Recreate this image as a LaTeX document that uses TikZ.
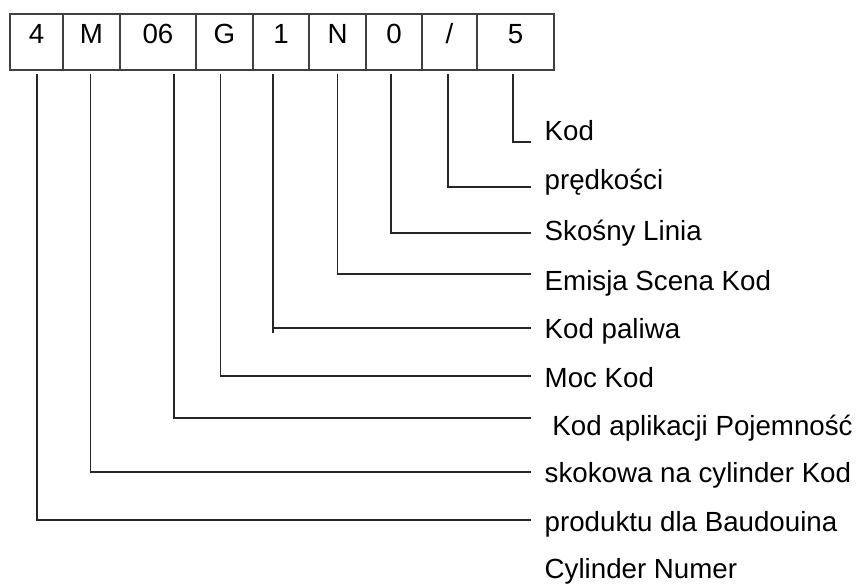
\documentclass[tikz,border=0pt]{standalone}
\usepackage{fontspec}
\setmainfont{Liberation Sans}
\usetikzlibrary{positioning}
\tikzset{cl/.style={draw=black!75,line width=1.4pt,outer sep=0pt,inner sep=0pt,minimum height=56pt,text height=20pt,text depth=17.4pt,font=\fontsize{27.7}{33}\selectfont},
 tx/.style={anchor=base west,inner sep=0pt,font=\fontsize{27.7}{33}\selectfont},
 ln/.style={draw=black!85,line width=1.2pt}}
\begin{document}
\begin{tikzpicture}[x=1pt,y=-1pt]
\useasboundingbox (0,0) rectangle (861,583);
% code cells
\node[cl,anchor=north west,minimum width=53pt](c4) at (10,14){4};\node[cl,right=0pt of c4,minimum width=57pt](cM){M};
\node[cl,right=0pt of cM,minimum width=76pt](c06){06};\node[cl,right=0pt of c06,minimum width=57pt](cG){G};
\node[cl,right=0pt of cG,minimum width=56pt](c1){1};\node[cl,right=0pt of c1,minimum width=57pt](cN){N};
\node[cl,right=0pt of cN,minimum width=56pt](c0){0};\node[cl,right=0pt of c0,minimum width=55pt](cs){/};
\node[cl,right=0pt of cs,minimum width=77pt](c5){5};
% labels
\node[tx](t5) at (544.5,140){Kod};\node[tx](ts) at (544.5,189){prędkości};
\node[tx](t0) at (544.5,240){Skośny Linia};\node[tx](tN) at (544.5,290){Emisja Scena Kod};
\node[tx](t1) at (544.5,338){Kod paliwa};\node[tx](tG) at (544.5,387){Moc Kod};
\node[tx](t06) at (544.5,435){\ Kod aplikacji Pojemność};\node[tx](tM) at (544.5,482){skokowa na cylinder Kod};
\node[tx](t4) at (544.5,531){produktu dla Baudouina};\node[tx](tc) at (544.5,578){Cylinder Numer};
% line ends
\coordinate (e5) at (531,142);\coordinate (es) at (531,187);\coordinate (e0) at (531,233);
\coordinate (eN) at (531,274);\coordinate (e1) at (531,328);\coordinate (eG) at (531,376);
\coordinate (e06) at (531,418);\coordinate (eM) at (531,472);\coordinate (e4) at (531,520);
\draw[ln]([xshift=-2.5pt,yshift=-4pt]c5.south)|-(e5);\draw[ln]([xshift=-1.5pt,yshift=-4pt]cs.south)|-(es);
\draw[ln]([xshift=-3pt,yshift=-4pt]c0.south)|-(e0);\draw[ln]([yshift=-4pt]cN.south)|-(eN);
\draw[ln](e1)-|([xshift=-8pt,yshift=-4pt]c1.south) ([xshift=-8pt]c1.south|-e1)--++(0,5);
\draw[ln]([xshift=-4pt,yshift=-4pt]cG.south)|-(eG);\draw[ln]([xshift=16pt,yshift=-4pt]c06.south)|-(e06);
\draw[ln]([xshift=-1pt,yshift=-4pt]cM.south)|-(eM);\draw[ln]([xshift=0.5pt,yshift=-4pt]c4.south)|-(e4);
\end{tikzpicture}
\end{document}
